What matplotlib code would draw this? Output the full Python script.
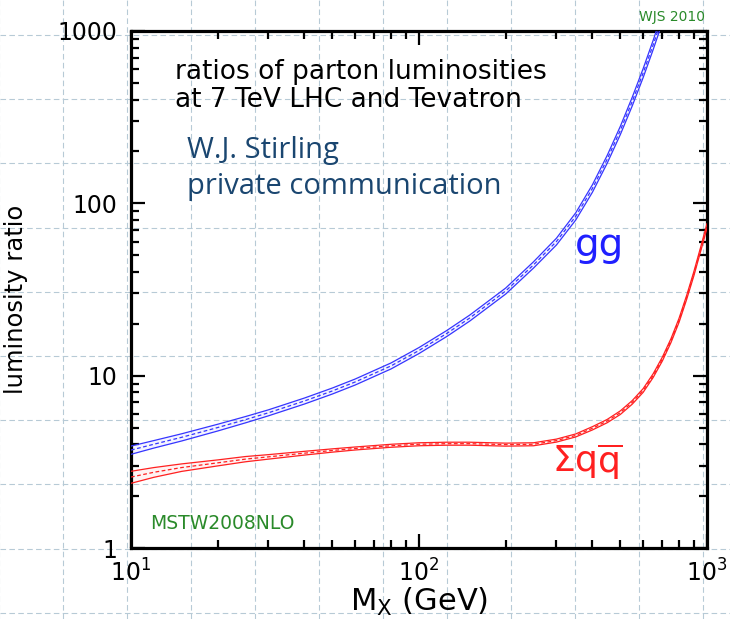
import matplotlib
matplotlib.use("Agg")
import matplotlib.pyplot as plt
from matplotlib.lines import Line2D
from matplotlib.ticker import LogLocator, FixedLocator, FixedFormatter

plt.rcParams["font.family"] = ["DejaVu Sans"]
plt.rcParams["mathtext.fontset"] = "dejavusans"

# parton luminosity ratios, LHC 7 TeV / Tevatron (MSTW2008NLO)
mass_gg = [10, 12, 15, 20, 25, 30, 40, 50, 60, 80, 100, 125, 150, 200,
           250, 300, 350, 400, 450, 500, 550, 600, 650, 700]
ratio_gg = [3.7, 4.0, 4.39, 5.0, 5.56, 6.09, 7.13, 8.15, 9.19, 11.4, 14.0,
            17.6, 21.6, 31.0, 44.0, 60.0, 84.0, 122.0, 180.0, 265.0, 390.0,
            570.0, 830.0, 1200.0]
err_gg = [0.055, 0.05, 0.048, 0.045, 0.042, 0.04, 0.04, 0.04, 0.04, 0.04,
          0.04, 0.04, 0.04, 0.04, 0.042, 0.045, 0.048, 0.05, 0.052, 0.055,
          0.058, 0.06, 0.062, 0.065]

mass_qq = [10, 12, 15, 20, 25, 30, 40, 50, 60, 80, 100, 125, 150, 200, 250,
           300, 350, 400, 450, 500, 550, 600, 650, 700, 750, 800, 850, 900,
           950, 1000]
ratio_qq = [2.58, 2.75, 2.93, 3.12, 3.28, 3.38, 3.55, 3.68, 3.78, 3.92, 4.0,
            4.03, 4.03, 3.98, 4.0, 4.2, 4.5, 4.95, 5.45, 6.1, 7.0, 8.2, 10.0,
            12.5, 16.0, 21.0, 28.5, 39.0, 54.0, 74.0]
err_qq = [0.08, 0.065, 0.05, 0.04, 0.035, 0.03, 0.025, 0.022, 0.02, 0.02,
          0.02, 0.02, 0.02, 0.02, 0.02, 0.02, 0.02, 0.022, 0.022, 0.024,
          0.024, 0.025, 0.025, 0.026, 0.026, 0.027, 0.027, 0.028, 0.028, 0.03]

W, H = 730, 619
fig = plt.figure(figsize=(W / 100, H / 100), dpi=100)
fig.patch.set_facecolor("white")

# slide background grid (dashed, light blue-grey)
grid_x = [-1 + 64 * k for k in range(12)]
grid_y = [35 + 64.2 * k for k in range(10)]
for gx in grid_x:
    fig.add_artist(Line2D([gx / W, gx / W], [0, 1], color="#b7cad6", lw=0.8,
                          ls=(0, (5, 3)), zorder=0))
for gy in grid_y:
    fig.add_artist(Line2D([0, 1], [1 - gy / H, 1 - gy / H], color="#b7cad6",
                          lw=0.8, ls=(0, (5, 3)), zorder=0))

ax = fig.add_axes([131 / W, 1 - 548 / H, 576 / W, 517 / H])
ax.patch.set_alpha(0)
ax.set_xscale("log")
ax.set_yscale("log")
ax.set_xlim(10, 1000)
ax.set_ylim(1, 1000)


def draw_band(m, r, e, color):
    lo = [v * (1 - f) for v, f in zip(r, e)]
    hi = [v * (1 + f) for v, f in zip(r, e)]
    ax.fill_between(m, lo, hi, color=color, alpha=0.05, lw=0, zorder=2)
    ax.plot(m, lo, color=color, lw=0.9, zorder=3)
    ax.plot(m, hi, color=color, lw=0.9, zorder=3)
    ax.plot(m, r, color=color, lw=0.9, ls=(0, (3, 2)), zorder=3)


draw_band(mass_gg, ratio_gg, err_gg, "#3535ff")
draw_band(mass_qq, ratio_qq, err_qq, "#ff2020")

for s in ax.spines.values():
    s.set_linewidth(2.3)
ax.tick_params(which="both", direction="in", top=True, right=True, width=1.6,
               labelsize=17, colors="black")
ax.tick_params(which="major", length=10)
ax.tick_params(which="minor", length=6)
ax.tick_params(axis="y", pad=10)
ax.tick_params(axis="x", pad=8)
ax.yaxis.set_major_locator(FixedLocator([1, 10, 100, 1000]))
ax.yaxis.set_major_formatter(FixedFormatter(["1", "10", "100", "1000"]))
ax.yaxis.set_minor_locator(LogLocator(subs=range(2, 10)))
ax.xaxis.set_minor_locator(LogLocator(subs=range(2, 10)))

ax.set_ylabel("luminosity ratio", fontsize=17.5)
ax.yaxis.set_label_coords(-0.178, 0.48)
ax.set_xlabel(r"M$_\mathregular{X}$ (GeV)", fontsize=22)
ax.xaxis.set_label_coords(0.5, -0.073)

ax.text(0.076, 0.945, "ratios of parton luminosities\nat 7 TeV LHC and Tevatron",
        transform=ax.transAxes, fontsize=19, ha="left", va="top",
        linespacing=1.1)
ax.text(0.097, 0.797, "W.J. Stirling\nprivate communication",
        transform=ax.transAxes, fontsize=21, ha="left", va="top",
        color="#1a4670", family=["Open Sans", "DejaVu Sans"], linespacing=1.3)
ax.text(0.771, 0.565, "gg", transform=ax.transAxes, fontsize=28,
        color="#2020ff", ha="left", va="baseline")
ax.text(0.731, 0.145, r"$\Sigma\mathrm{q}\overline{\mathrm{q}}$",
        transform=ax.transAxes, fontsize=26, color="#ff2020", ha="left",
        va="baseline")
ax.text(0.033, 0.037, "MSTW2008NLO", transform=ax.transAxes, fontsize=13.5,
        color="#2a8a2a", ha="left", va="baseline")
ax.text(0.997, 1.019, "WJS 2010", transform=ax.transAxes, fontsize=10,
        color="#2a8a2a", ha="right", va="baseline")

fig.savefig("out.png", dpi=100)
